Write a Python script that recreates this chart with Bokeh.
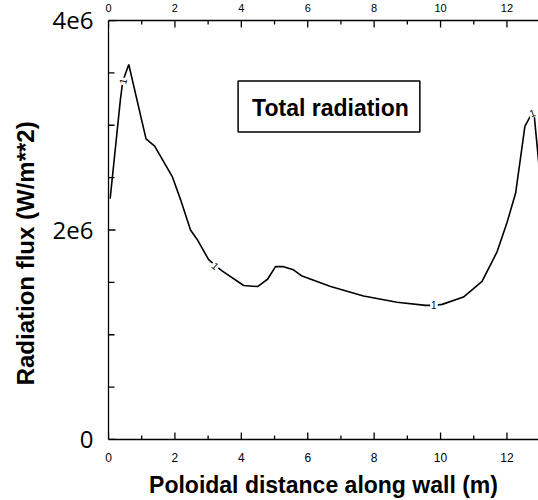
import math
from bokeh.plotting import figure
from bokeh.models import Range1d, LinearAxis, FixedTicker, Label, ColumnDataSource
from bokeh.core.properties import value
from bokeh.embed import file_html
from bokeh.resources import INLINE

# Poloidal distance along wall (m) and total radiation flux (W/m**2)
distance = [0.05, 0.36, 0.43, 0.61, 1.13, 1.39, 1.92, 2.17, 2.47, 2.67, 3.01, 3.22, 3.42,
            4.07, 4.49, 4.79, 5.03, 5.27, 5.57, 5.83, 6.69, 7.68, 8.69, 9.55, 9.8, 10.05,
            10.69, 11.25, 11.7, 12.0, 12.26, 12.41, 12.54, 12.66, 12.76, 12.81, 12.97]
flux = [2.30e6, 3.25e6, 3.42e6, 3.58e6, 2.87e6, 2.80e6, 2.51e6, 2.29e6, 2.00e6, 1.91e6, 1.72e6,
        1.66e6, 1.61e6, 1.47e6, 1.46e6, 1.53e6, 1.65e6, 1.65e6, 1.62e6, 1.56e6, 1.46e6, 1.37e6,
        1.31e6, 1.28e6, 1.28e6, 1.29e6, 1.36e6, 1.51e6, 1.79e6, 2.07e6, 2.35e6, 2.69e6, 2.99e6,
        3.06e6, 3.12e6, 3.13e6, 2.60e6]

# contour-style labels sitting on the curve
label_x = [0.43, 3.22, 9.8, 12.76]
label_y = [3.42e6, 1.66e6, 1.28e6, 3.12e6]
label_angle = [1.35, -0.7, 0.0, 0.35]
label_text = ["1", "1", "1", "1"]

x_major = [0, 2, 4, 6, 8, 10, 12]
x_minor = [1, 3, 5, 7, 9, 11]
y_major = [0, 2e6, 4e6]
y_major_labels = ["0", "2e6", "4e6"]
y_minor = [5e5, 1e6, 1.5e6, 2.5e6, 3e6, 3.5e6]

X0, X1 = 0, 12.95
Y0, Y1 = 0, 4e6

p = figure(width=538, height=500, output_backend="svg", toolbar_location=None,
           x_axis_location=None, y_axis_location=None,
           x_range=Range1d(X0, X1), y_range=Range1d(Y0, Y1),
           min_border_left=108, min_border_right=0, min_border_top=18, min_border_bottom=57)
p.outline_line_color = None
p.xgrid.visible = False
p.ygrid.visible = False
p.background_fill_color = "white"
p.border_fill_color = "white"

def style_axis(ax):
    ax.major_tick_line_color = None
    ax.minor_tick_line_color = None
    ax.axis_line_color = "black"
    ax.axis_line_width = 1.3

def style_x(ax, lab_size):
    ax.ticker = FixedTicker(ticks=x_major, minor_ticks=x_minor)
    style_axis(ax)
    ax.major_label_text_font = "Liberation Sans"
    ax.major_label_text_font_size = lab_size
    ax.major_label_text_color = "black"

bottom = LinearAxis(axis_label="Poloidal distance along wall (m)")
style_x(bottom, "12px")
bottom.major_label_standoff = 7
bottom.axis_label_text_font = "Liberation Sans"
bottom.axis_label_text_font_style = "bold"
bottom.axis_label_text_font_size = "23px"
bottom.axis_label_text_color = "black"
bottom.axis_label_standoff = 7
p.add_layout(bottom, "below")

top = LinearAxis()
style_x(top, "11px")
top.major_label_standoff = 3
p.add_layout(top, "above")

left = LinearAxis(axis_label="Radiation flux (W/m**2)" + "\u00a0" * 7)
left.ticker = FixedTicker(ticks=y_major, minor_ticks=y_minor)
left.major_label_overrides = {v: s for v, s in zip(y_major, y_major_labels)}
style_axis(left)
left.major_label_text_font = "Open Sans"
left.major_label_text_font_size = "24px"
left.major_label_text_color = "black"
left.major_label_standoff = 9
left.axis_label_text_font = "Liberation Sans"
left.axis_label_text_font_style = "bold"
left.axis_label_text_font_size = "24px"
left.axis_label_text_color = "black"
left.axis_label_standoff = 11
p.add_layout(left, "left")

# inward-pointing tick marks drawn at the frame edges
tick_kw = dict(line_color="black", line_width=1.3, length_units="screen")
p.ray(x=x_major, y=[Y0] * len(x_major), length=7, angle=math.pi / 2, **tick_kw)
p.ray(x=x_minor, y=[Y0] * len(x_minor), length=4, angle=math.pi / 2, **tick_kw)
p.ray(x=x_major, y=[Y1] * len(x_major), length=7, angle=-math.pi / 2, **tick_kw)
p.ray(x=x_minor, y=[Y1] * len(x_minor), length=4, angle=-math.pi / 2, **tick_kw)
p.ray(x=[X0] * len(y_major), y=y_major, length=7, angle=0, **tick_kw)
p.ray(x=[X0] * len(y_minor), y=y_minor, length=6, angle=0, **tick_kw)

p.line(distance, flux, line_color="black", line_width=1.6)

src = ColumnDataSource(dict(x=label_x, y=label_y, a=label_angle, t=label_text))
p.text(x="x", y="y", text="t", angle="a", source=src, text_align="center",
       text_baseline="middle", text_font=value("Liberation Sans"), text_font_size="10px",
       text_color="black", background_fill_color="white", padding=1)

p.add_layout(Label(x=6.64, y=3.18e6, text="Total radiation", text_align="center",
                   text_baseline="middle", text_font="Liberation Sans",
                   text_font_style="bold", text_font_size="23px", text_color="black",
                   background_fill_color="white", border_line_color="black",
                   border_line_width=1.5, padding=[14, 11, 14, 11]))

open("out.html", "w").write(file_html(p, INLINE))
